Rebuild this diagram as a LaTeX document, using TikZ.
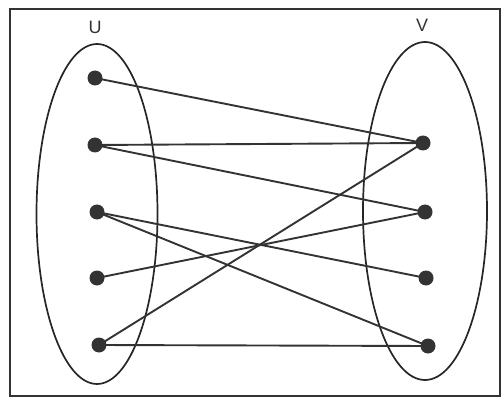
\documentclass[tikz,border=0pt]{standalone}
\usepackage{fontspec}
\setmainfont{Liberation Sans}
\usetikzlibrary{shapes.geometric}

\begin{document}
\begin{tikzpicture}[
  x=1pt, y=-1pt,
  vtx/.style={circle, fill=black!80, draw=none, minimum size=15pt, inner sep=0pt},
  part/.style={ellipse, draw=black!85, line width=1.7pt, inner sep=0pt},
  setlbl/.style={font=\fontsize{18}{18}\selectfont, text=black!80},
  edge/.style={line width=1.9pt, draw=black!80}
]
\useasboundingbox (0,0) rectangle (503,398);
\draw[line width=2.6pt, black!80] (10,9) rectangle (500,396);

\node[part, minimum width=121pt, minimum height=340pt] (U) at (97,214) {};
\node[part, minimum width=124pt, minimum height=338pt] (V) at (425,211) {};

\node[setlbl] (ulbl) at (95,27) {U};
\node[setlbl] (vlbl) at (422,25) {V};

\node[vtx] (u1) at (95,78) {};
\node[vtx] (u2) at (95,145) {};
\node[vtx] (u3) at (97,212) {};
\node[vtx] (u4) at (97,278) {};
\node[vtx] (u5) at (99,345) {};

\node[vtx] (v1) at (423,143) {};
\node[vtx] (v2) at (425,212) {};
\node[vtx] (v3) at (426,278) {};
\node[vtx] (v4) at (428,346) {};

\draw[edge] (u1.center) -- (v1.center);
\draw[edge] (u2.center) -- (v1.center);
\draw[edge] (u2.center) -- (v2.center);
\draw[edge] (u3.center) -- (v3.center);
\draw[edge] (u3.center) -- (v4.center);
\draw[edge] (u4.center) -- (v2.center);
\draw[edge] (u5.center) -- (v1.center);
\draw[edge] (u5.center) -- (v4.center);

\end{tikzpicture}
\end{document}
